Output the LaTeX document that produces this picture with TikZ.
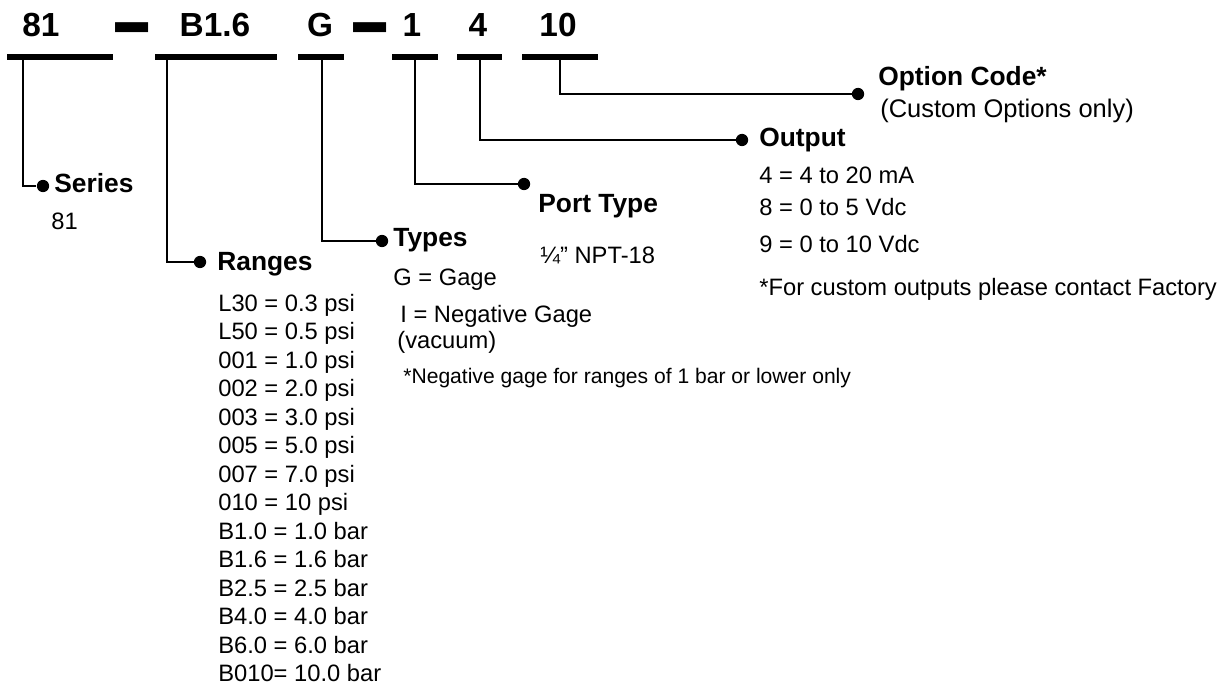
\documentclass[tikz,border=0pt]{standalone}
\usepackage{fontspec}
\setmainfont{Liberation Sans}

\begin{document}
\begin{tikzpicture}[x=0.02cm, y=-0.02cm,
  code/.style={font=\fontsize{19}{22}\selectfont\bfseries, anchor=base, inner sep=0},
  sep/.style={font=\fontsize{19}{22}\selectfont\bfseries, anchor=base, inner sep=0},
  bar/.style={line width=3.4pt},
  lead/.style={line width=1pt},
  dot/.style={circle, fill, inner sep=0, minimum size=7pt},
  head/.style={font=\fontsize{15}{18}\selectfont\bfseries, anchor=base west, inner sep=0},
  item/.style={font=\fontsize{13.5}{16}\selectfont, anchor=base west, inner sep=0},
  note/.style={font=\fontsize{12}{14}\selectfont, anchor=base west, inner sep=0}]
\useasboundingbox (0,0) rectangle (1230,689);

% model code
\node [code] (c81) at (41,37) {81};
\node [sep] (d1) at (132.5,55) {\scalebox{2}[3]{–}};
\node [code] (cb) at (215,37) {B1.6};
\node [code] (cg) at (320,37) {G};
\node [sep] (d2) at (370.5,55) {\scalebox{2}[3]{–}};
\node [code] (c1) at (412,37) {1};
\node [code] (c4) at (478,37) {4};
\node [code] (c10) at (558,37) {10};

% underlines
\draw [bar] (7,57) -- (113,57);
\draw [bar] (155,57) -- (277,57);
\draw [bar] (298,57) -- (344,57);
\draw [bar] (392,57) -- (438,57);
\draw [bar] (457,57) -- (502,57);
\draw [bar] (522,57) -- (598,57);
\coordinate (b81) at (23,57);
\coordinate (bb) at (167,57);
\coordinate (bg) at (322,57);
\coordinate (b1) at (415,57);
\coordinate (b4) at (480,57);
\coordinate (b10) at (560,57);

% end dots
\node [dot] (series) at (43,186) {};
\node [dot] (ranges) at (200,262) {};
\node [dot] (types) at (382,241) {};
\node [dot] (port) at (524,184) {};
\node [dot] (output) at (742,140) {};
\node [dot] (option) at (858,94) {};

\draw [lead] (b81) |- (series);
\draw [lead] (bb) |- (ranges);
\draw [lead] (bg) |- (types);
\draw [lead] (b1) |- (port);
\draw [lead] (b4) |- (output);
\draw [lead] (b10) |- (option);

% series
\node [head] (seriest) at (54,193) {Series};
\node [item] (s81) at (51,230) {81};

% ranges
\node [head] (rangest) at (217,270) {Ranges};
\foreach \txt [count=\i from 0] in {L30 = 0.3 psi, L50 = 0.5 psi, 001 = 1.0 psi,
  002 = 2.0 psi, 003 = 3.0 psi, 005 = 5.0 psi, 007 = 7.0 psi, 010 = 10 psi,
  B1.0 = 1.0 bar, B1.6 = 1.6 bar, B2.5 = 2.5 bar, B4.0 = 4.0 bar,
  B6.0 = 6.0 bar, B010= 10.0 bar}
  \node [item] (r\i) at (218,{311+28.5*\i}) {\txt};

% types
\node [head] (typest) at (393,247) {Types};
\node [item] (tg) at (393,285) {G = Gage};
\node [item] (ti) at (400,322) {I = Negative Gage};
\node [item] (tv) at (397,348) {(vacuum)};
\node [note] (tn) at (403,383) {*Negative gage for ranges of 1 bar or lower only};

% port type
\node [head] (portt) at (538,213) {Port Type};
\node [item] (pn) at (540,263) {¼” NPT-18};

% output
\node [head] (outputt) at (759,147) {Output};
\node [item] (o4) at (759,184) {4 = 4 to 20 mA};
\node [item] (o8) at (759,215) {8 = 0 to 5 Vdc};
\node [item] (o9) at (759,253) {9 = 0 to 10 Vdc};
\node [item] (of) at (759,296) {*For custom outputs please contact Factory};

% option code
\node [head] (optiont) at (878,86) {Option Code*};
\node [item, font=\fontsize{14.5}{17}\selectfont] (oc) at (880,118) {(Custom Options only)};
\end{tikzpicture}
\end{document}
